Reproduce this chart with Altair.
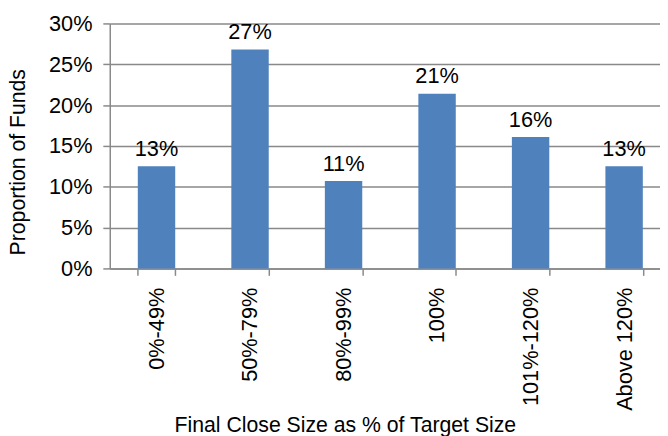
import altair as alt
import pandas as pd

categories = ["0%-49%", "50%-79%", "80%-99%", "100%", "101%-120%", "Above 120%"]
values = [0.125, 0.268, 0.107, 0.214, 0.161, 0.125]
labels = ["13%", "27%", "11%", "21%", "16%", "13%"]
y_ticks = [0, 0.05, 0.10, 0.15, 0.20, 0.25, 0.30]

df = pd.DataFrame({"cat": categories, "val": values, "lab": labels})

FONT = "Liberation Sans"
GRAY = "#898989"

x_enc = alt.X(
    "cat:N",
    sort=categories,
    scale=alt.Scale(paddingInner=0.6, paddingOuter=0.3, range=[0, 568]),
    axis=alt.Axis(
        title="Final Close Size as % of Target Size",
        labelAngle=-90,
        labelFontSize=22,
        labelFont=FONT,
        labelColor="#000000",
        labelPadding=12,
        tickBand="extent",
        tickSize=7,
        tickColor=GRAY,
        tickWidth=1.5,
        domainColor=GRAY,
        domainWidth=1.5,
        titleFontSize=21.5,
        titleFont=FONT,
        titleFontWeight="normal",
        titleColor="#000000",
        titleX=238,
        titleY=165,
        titleBaseline="alphabetic",
        titleAlign="center",
        titleAnchor="start",
    ),
)

y_enc = alt.Y(
    "val:Q",
    scale=alt.Scale(domain=[0, 0.3], nice=False),
    axis=alt.Axis(
        title="Proportion of Funds",
        values=y_ticks,
        format=".0%",
        labelFontSize=22,
        labelFont=FONT,
        labelColor="#000000",
        labelPadding=11,
        tickSize=7,
        tickColor=GRAY,
        tickWidth=1.5,
        domainColor=GRAY,
        domainWidth=1.5,
        grid=True,
        gridColor=GRAY,
        gridWidth=1.5,
        titleFontSize=21.5,
        titleFont=FONT,
        titleFontWeight="normal",
        titleColor="#000000",
        titleX=-92,
        titleY=140,
        titleAngle=-90,
        titleBaseline="middle",
        titleAlign="center",
        titleAnchor="start",
    ),
)

bars = alt.Chart(df).mark_bar(color="#4F81BD").encode(x=x_enc, y=y_enc)

text = alt.Chart(df).mark_text(
    baseline="alphabetic", dy=-10.5, fontSize=22, font=FONT, color="#000000"
).encode(
    x=alt.X("cat:N", sort=categories),
    y=alt.Y("val:Q"),
    text="lab:N",
)

chart = (
    alt.layer(bars, text)
    .properties(
        width=557,
        height=248,
        autosize=alt.AutoSizeParams(type="none"),
        padding={"left": 103, "top": 13, "right": 0, "bottom": 167},
    )
    .configure_view(strokeWidth=0)
)

chart.save("out.html", embed_options={"renderer": "svg", "actions": False})
